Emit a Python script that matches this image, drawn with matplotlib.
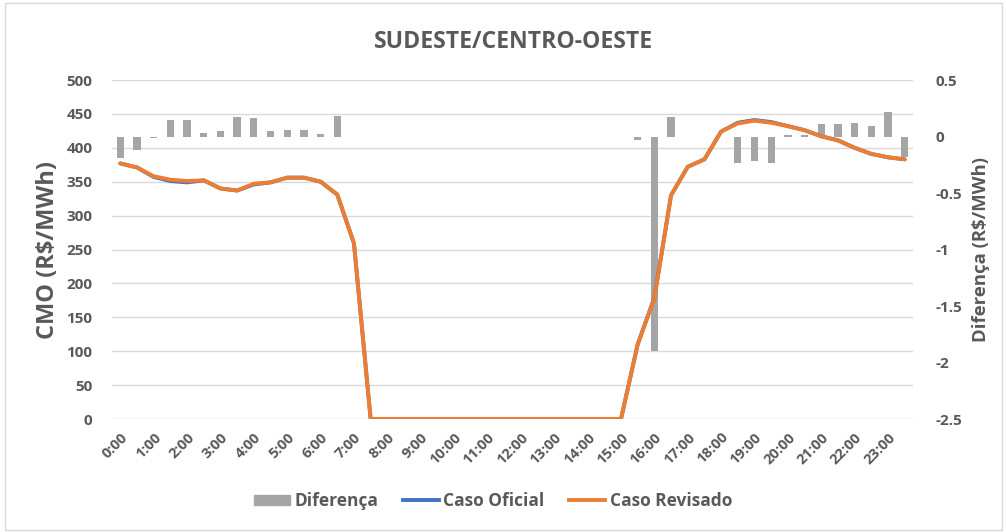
import matplotlib
matplotlib.use("Agg")
import matplotlib.pyplot as plt
from matplotlib.patches import Rectangle, Patch
from matplotlib.lines import Line2D
import numpy as np

# half-hourly labels, only whole hours are shown on the axis
horas = ["%d:00" % h for h in range(24)]

caso_revisado = [377, 371, 358, 353, 351, 352, 340, 337, 347, 349, 356, 356,
                 350, 331, 259, 0, 0, 0, 0, 0, 0, 0, 0, 0,
                 0, 0, 0, 0, 0, 0, 0, 110, 178, 330, 372, 383,
                 424, 436, 440, 437, 432, 426, 417, 411, 400, 391, 386, 383]
caso_oficial = [377, 371, 357, 351, 349, 352, 340, 337, 346, 349, 356, 356,
                350, 331, 259, 0, 0, 0, 0, 0, 0, 0, 0, 0,
                0, 0, 0, 0, 0, 0, 0, 110, 179, 330, 372, 383,
                424, 437, 441, 438, 432, 426, 417, 411, 400, 391, 386, 383]
diferenca = [-0.19, -0.12, -0.01, 0.145, 0.145, 0.035, 0.045, 0.17, 0.16, 0.05, 0.055, 0.055,
             0.02, 0.18, 0, 0, 0, 0, 0, 0, 0, 0, 0, 0,
             0, 0, 0, 0, 0, 0, 0, -0.035, -1.9, 0.17, 0, 0,
             0, -0.23, -0.22, -0.23, 0.01, 0.01, 0.11, 0.11, 0.12, 0.09, 0.22, -0.18]

cinza_txt = "#595959"
plt.rcParams["font.family"] = ["Open Sans", "DejaVu Sans"]
plt.rcParams["font.weight"] = "bold"
plt.rcParams["axes.labelweight"] = "bold"

fig = plt.figure(figsize=(10.06, 5.32), dpi=100)
ax = fig.add_axes([0.1113, 0.2124, 0.7963, 0.6372])
ax2 = ax.twinx()
ax3 = ax.twinx()

x = np.arange(len(caso_revisado))

# grid + left axis
ax.set_ylim(0, 500)
ax.set_yticks(range(0, 501, 50))
ax.yaxis.grid(True, color="#D9D9D9", linewidth=1)
ax.set_axisbelow(True)
ax.set_xlim(-0.5, len(x) - 0.5)
ax.set_xticks(x[::2])
ax.set_xticklabels(horas, rotation=45, ha="right", rotation_mode="anchor")
ax.tick_params(axis="both", length=0, colors=cinza_txt, labelsize=10.5)
ax.tick_params(axis="y", pad=14, labelsize=11)
ax.tick_params(axis="x", pad=8)
ax.set_ylabel("CMO (R\\$/MWh)", fontsize=17, color=cinza_txt, labelpad=5)

# bars on right axis
ax2.bar(x, diferenca, width=0.44, color="#A5A5A5")
ax2.set_ylim(-2.5, 0.5)
ax2.set_yticks(np.arange(-2.5, 0.51, 0.5))
ax2.set_yticklabels(["-2.5", "-2", "-1.5", "-1", "-0.5", "0", "0.5"])
ax2.tick_params(axis="y", length=0, colors=cinza_txt, labelsize=11, pad=16)
ax2.set_ylabel("Diferença (R\\$/MWh)", fontsize=13.3, color=cinza_txt, labelpad=7)

# lines on top
ax3.plot(x, caso_oficial, color="#4472C4", linewidth=2.8, solid_capstyle="round")
ax3.plot(x, caso_revisado, color="#ED7D31", linewidth=2.8, solid_capstyle="round")
ax3.set_ylim(0, 500)
ax3.set_yticks([])

for a in (ax, ax2, ax3):
    for s in a.spines.values():
        s.set_visible(False)

fig.text(0.510, 0.921, "SUDESTE/CENTRO-OESTE", ha="center", va="center",
         fontsize=16.6, color=cinza_txt)

handles = [Patch(color="#A5A5A5"),
           Line2D([], [], color="#4472C4", linewidth=2.8),
           Line2D([], [], color="#ED7D31", linewidth=2.8)]
fig.legend(handles, ["Diferença", "Caso Oficial", "Caso Revisado"], loc="center",
           bbox_to_anchor=(0.490, 0.058), ncol=3, frameon=False, fontsize=12.5,
           labelcolor=cinza_txt, handlelength=2.1, handleheight=0.55,
           handletextpad=0.25, columnspacing=1.4)

fig.add_artist(Rectangle((0.005, 0.004), 0.991, 0.99, transform=fig.transFigure,
                         fill=False, edgecolor="#D9D9D9", linewidth=1))

fig.savefig("out.png", dpi=100)
